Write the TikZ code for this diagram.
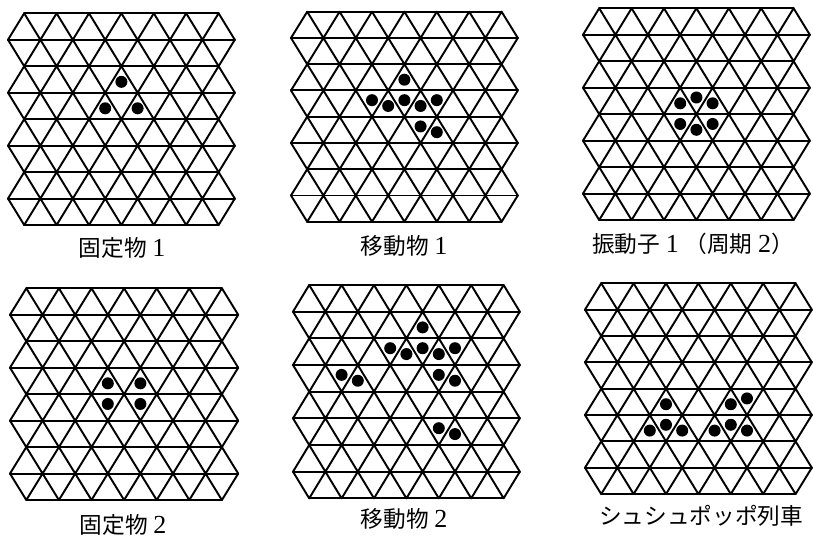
\documentclass[tikz,border=0pt]{standalone}
\usepackage{fontspec}
\setmainfont{Liberation Serif}
\newfontfamily\jp{Noto Sans CJK JP}
\newcommand\dg[1]{{\fontsize{19.5}{20}\selectfont #1}}
\tikzset{
  gridline/.style={line width=1.45pt, line join=round, line cap=round},
  lbl/.style={font=\fontsize{17}{20}\selectfont, inner sep=0pt},
}
% up / down triangle cells: #1 = apex x, #2 = row (1..8)
\newcommand\upcell[2]{\fill (#1,#2-0.41) circle[radius=4.5pt];}
\newcommand\dncell[2]{\fill (#1,#2-0.63) circle[radius=4.5pt];}
\newcommand\trilattice{%
  \foreach \j in {0,2,4,6,8} \draw[gridline] (0.5,\j) -- (6.5,\j);
  \foreach \j in {1,3,5,7} \draw[gridline] (0,\j) -- (7,\j);
  \foreach \j in {0,2,4,6} {\draw[gridline] (0,\j+1) \foreach \k in {0,...,6} { -- (\k+0.5,\j) -- (\k+1,\j+1) };}
  \foreach \j in {1,3,5,7} {\draw[gridline] (0,\j) \foreach \k in {0,...,6} { -- (\k+0.5,\j+1) -- (\k+1,\j) };}
}
\newcommand\panel[5]{%
  \begin{scope}[shift={(#1,#2)}, x=#3, y=#4]
    \trilattice
    #5
  \end{scope}}
\begin{document}
\begin{tikzpicture}[x=0.75pt, y=-0.75pt]
\useasboundingbox (0,0) rectangle (813,539);
% panel 1
\panel{8}{13.3}{24.3pt}{-19.85pt}{\upcell{3.5}{3}\upcell{3}{4}\upcell{4}{4}}
% panel 2
\panel{291}{11.7}{24.3pt}{-19.69pt}{\upcell{3.5}{3}\dncell{2.5}{4}\upcell{3}{4}\dncell{3.5}{4}\upcell{4}{4}\dncell{4.5}{4}\dncell{4}{5}\upcell{4.5}{5}}
% panel 3
\panel{583}{8.3}{24.3pt}{-19.85pt}{\upcell{3}{4}\dncell{3.5}{4}\upcell{4}{4}\dncell{3}{5}\upcell{3.5}{5}\dncell{4}{5}}
% panel 4
\panel{10}{288.3}{24.45pt}{-19.85pt}{\upcell{3}{4}\upcell{4}{4}\dncell{3}{5}\dncell{4}{5}}
% panel 5
\panel{293}{285}{24.3pt}{-20pt}{\upcell{4}{2}\dncell{3}{3}\upcell{3.5}{3}\dncell{4}{3}\upcell{4.5}{3}\dncell{5}{3}\dncell{1.5}{4}\upcell{2}{4}\dncell{4.5}{4}\upcell{5}{4}\dncell{4.5}{6}\upcell{5}{6}}
% panel 6
\panel{585}{283.3}{24.3pt}{-19.76pt}{\upcell{2.5}{5}\upcell{2}{6}\dncell{2.5}{6}\upcell{3}{6}\upcell{4.5}{5}\dncell{5}{5}\upcell{4}{6}\dncell{4.5}{6}\upcell{5}{6}}
% labels
\node[lbl] (l1) at (122,248) {{\jp 固定物} \dg{1}};
\node[lbl] (l2) at (404,246) {{\jp 移動物} \dg{1}};
\node[lbl] (l3) at (693,244) {{\jp 振動子} \dg{1} {\jp （周期} \dg{2}{\jp ）}};
\node[lbl] (l4) at (123,525) {{\jp 固定物} \dg{2}};
\node[lbl] (l5) at (404,519) {{\jp 移動物} \dg{2}};
\node[lbl] (l6) at (701,516) {{\jp シュシュポッポ列車}};
\end{tikzpicture}
\end{document}
